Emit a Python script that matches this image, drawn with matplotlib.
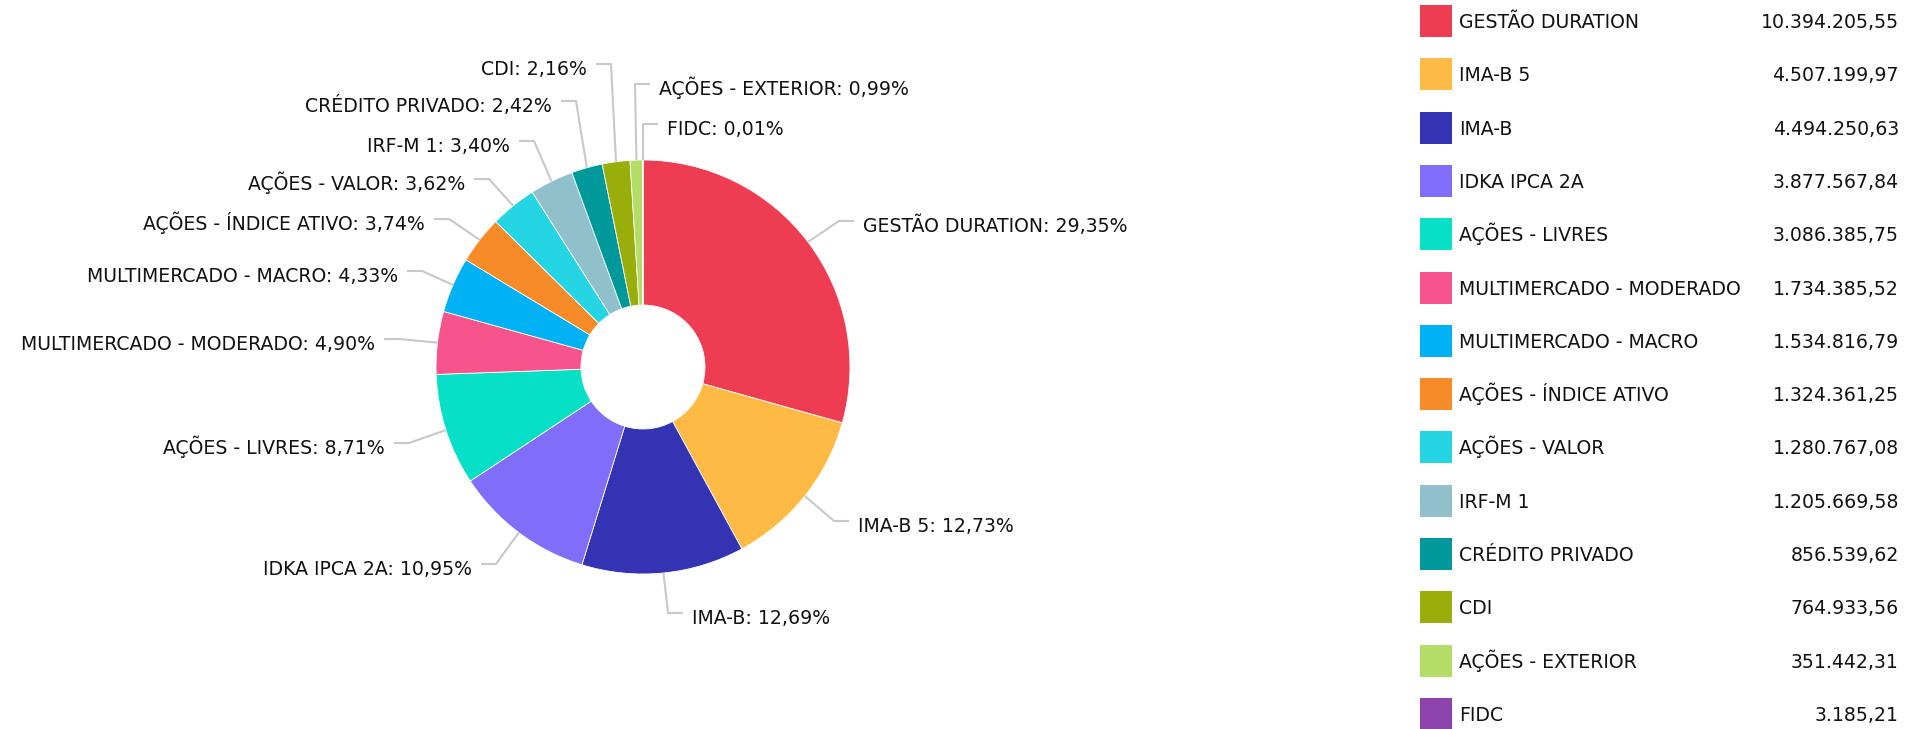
import matplotlib
matplotlib.use("Agg")
import matplotlib.pyplot as plt
import numpy as np

# ---------------- data ----------------
categories = [
    "GESTÃO DURATION", "IMA-B 5", "IMA-B", "IDKA IPCA 2A", "AÇÕES - LIVRES",
    "MULTIMERCADO - MODERADO", "MULTIMERCADO - MACRO", "AÇÕES - ÍNDICE ATIVO",
    "AÇÕES - VALOR", "IRF-M 1", "CRÉDITO PRIVADO", "CDI", "AÇÕES - EXTERIOR", "FIDC",
]
values = [
    10394205.55, 4507199.97, 4494250.63, 3877567.84, 3086385.75,
    1734385.52, 1534816.79, 1324361.25, 1280767.08, 1205669.58,
    856539.62, 764933.56, 351442.31, 3185.21,
]
colors = [
    "#EE3D52", "#FFB945", "#3333B3", "#806DFA", "#07E0C7",
    "#F7538C", "#00B2F3", "#F68B27", "#26D5E3", "#90C0CC",
    "#00999B", "#99AE0A", "#B3DD66", "#8E42AC",
]

# ---------------- layout (pixel coords, y downward) ----------------
W, H = 1930, 729
CX, CY = 643, 367
R_OUT, R_IN = 207, 62
# label anchor: (side, text edge x, text cap-center y)
label_layout = [
    ("R", 863, 225), ("R", 858, 525), ("R", 692, 617), ("L", 472, 568),
    ("L", 385, 447), ("L", 375, 343), ("L", 398, 275), ("L", 425, 223),
    ("L", 465, 183), ("L", 510, 145), ("L", 552, 105), ("L", 587, 68),
    ("R", 659, 88), ("R", 667, 128),
]

FONT = "DejaVu Sans"
FS = 13.6
plt.rcParams["font.family"] = [FONT]


def Y(p):
    return H - p


def fmt_br(v):
    s = f"{v:,.2f}"
    return s.replace(",", "X").replace(".", ",").replace("X", ".")


fig = plt.figure(figsize=(W / 100, H / 100), dpi=100)
ax = fig.add_axes([0, 0, 1, 1])

ax.pie(values, colors=colors, startangle=90, counterclock=False,
       radius=R_OUT, center=(CX, Y(CY)),
       wedgeprops=dict(width=R_OUT - R_IN, linewidth=0.6, edgecolor="white"))
ax.set_xlim(0, W)
ax.set_ylim(0, H)
ax.set_aspect("equal")
ax.axis("off")

total = float(np.sum(values))
fr = np.array(values) / total
cum = np.cumsum(fr) - fr / 2.0
line_col = "#c8c8c8"
for cat, f, m, (side, ex, ey) in zip(categories, fr, cum, label_layout):
    ang = 2 * np.pi * m  # clockwise from top
    px = CX + R_OUT * np.sin(ang)
    py = CY - R_OUT * np.cos(ang)
    ly = ey - 4
    if side == "R":
        elbow = ex - 24
        hend = ex - 9
        ha = "left"
    else:
        elbow = ex + 24
        hend = ex + 9
        ha = "right"
    ax.plot([px, elbow, hend], [Y(py), Y(ly), Y(ly)], color=line_col, lw=1.5,
            solid_capstyle="butt", zorder=1)
    pct = f"{f * 100:.2f}".replace(".", ",")
    ax.text(ex, Y(ey + 7), f"{cat}: {pct}%", ha=ha, va="baseline",
            fontsize=FS, color="#111111")

# ---------------- legend ----------------
row0, step = 21, 53.3
for i, (cat, v, c) in enumerate(zip(categories, values, colors)):
    yc = row0 + i * step
    ax.add_patch(plt.Rectangle((1420, Y(yc + 16)), 32, 32, facecolor=c,
                               edgecolor="none"))
    ax.text(1459, Y(yc + 7), cat, ha="left", va="baseline", fontsize=FS,
            color="#111111")
    ax.text(1899, Y(yc + 7), fmt_br(v), ha="right", va="baseline", fontsize=FS,
            color="#111111")

fig.savefig("out.png", dpi=100, facecolor="white")
